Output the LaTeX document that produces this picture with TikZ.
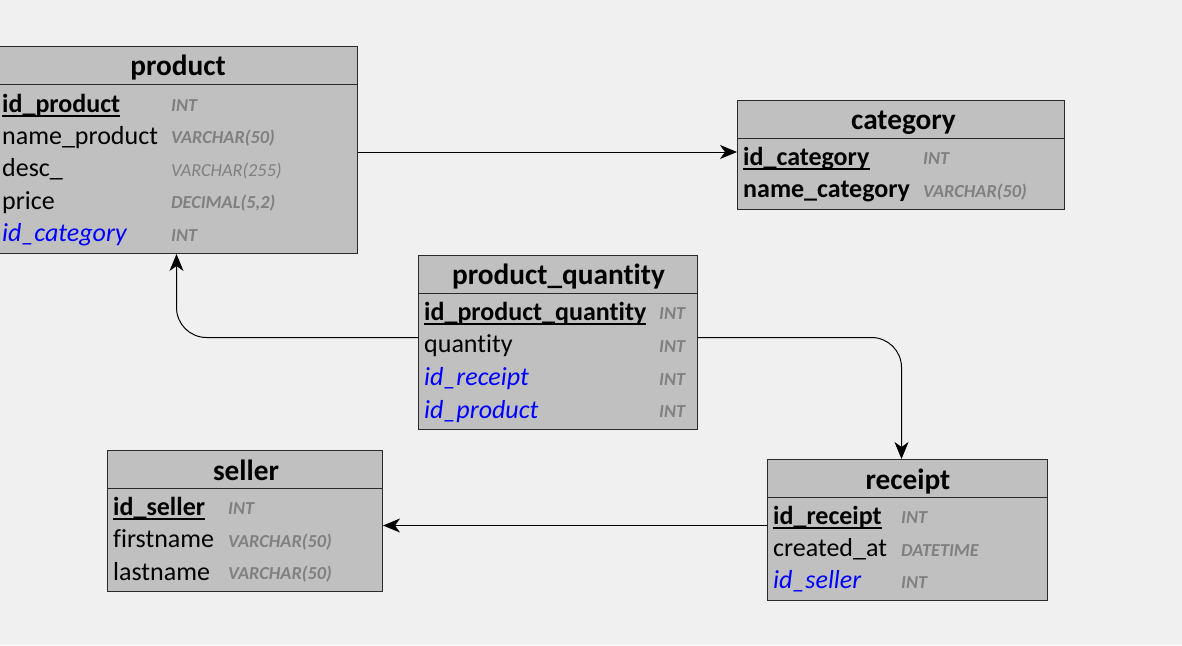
\documentclass[tikz,border=0pt]{standalone}
\usepackage{fontspec}
\setmainfont{Carlito}[Ligatures={NoCommon,NoContextual}]
\usetikzlibrary{arrows.meta}
\definecolor{canvas}{HTML}{F0F0F0}
\definecolor{tablefill}{HTML}{C0C0C0}
\definecolor{tableline}{HTML}{2A2A2A}
\definecolor{typegray}{HTML}{808080}
\definecolor{fkblue}{HTML}{0000FF}
\tikzset{
  tbl/.style={draw=tableline, fill=tablefill, line width=1pt, inner sep=0pt, anchor=north west},
  divider/.style={draw=tableline, line width=1pt},
  title/.style={anchor=base, inner sep=0pt, font=\fontsize{29.3}{30}\selectfont\bfseries},
  col/.style={anchor=base west, inner sep=0pt, font=\fontsize{26}{27}\selectfont},
  pk/.style={col, font=\fontsize{26}{27}\selectfont\bfseries},
  fk/.style={col, text=fkblue, font=\fontsize{26}{27}\selectfont\itshape},
  typ/.style={anchor=base west, inner sep=0pt, text=typegray, font=\fontsize{18.3}{19}\selectfont\bfseries\itshape},
  typlight/.style={typ, font=\fontsize{18.3}{19}\selectfont\itshape},
  keyline/.style={draw=black, line width=1.3pt},
  rel/.style={draw=black, line width=1pt, -{Stealth[length=17pt,width=14pt,inset=5pt]}}
}
\begin{document}
\begin{tikzpicture}[x=1pt,y=-1pt]
  \useasboundingbox[fill=canvas] (0,0) rectangle (1182,645);

  % ---------- product ----------
  \node[tbl, minimum width=358pt, minimum height=207pt] (product) at (-1,46) {};
  \draw[divider] (-1,84) -- (357,84);
  \node[title] (productT) at (178,75.5) {product};
  \node[pk] (productC1) at (2,112) {id\_product};
  \draw[keyline] ([yshift=-4pt]productC1.base west) -- ([yshift=-4pt]productC1.base east);
  \node[col] (productC2) at (2,144) {name\_product};
  \node[col] (productC3) at (2,176.5) {desc\_};
  \node[col] (productC4) at (2,209) {price};
  \node[fk] (productC5) at (2,241.5) {id\_category};
  \node[typ] (productY1) at (171,111) {INT};
  \node[typ] (productY2) at (171,143.5) {VARCHAR(50)};
  \node[typlight] (productY3) at (171,176) {VARCHAR(255)};
  \node[typ] (productY4) at (171,208.5) {DECIMAL(5,2)};
  \node[typ] (productY5) at (171,241) {INT};

  % ---------- category ----------
  \node[tbl, minimum width=327pt, minimum height=109pt] (category) at (737,100) {};
  \draw[divider] (737,138) -- (1064,138);
  \node[title] (categoryT) at (903.5,129.5) {category};
  \node[pk] (categoryC1) at (743,165) {id\_category};
  \draw[keyline] ([yshift=-4pt]categoryC1.base west) -- ([yshift=-4pt]categoryC1.base east);
  \node[pk] (categoryC2) at (743,197.5) {name\_category};
  \node[typ] (categoryY1) at (923,164.5) {INT};
  \node[typ] (categoryY2) at (923,197) {VARCHAR(50)};

  % ---------- product_quantity ----------
  \node[tbl, minimum width=279pt, minimum height=174pt] (pq) at (418,255) {};
  \draw[divider] (418,293) -- (697,293);
  \node[title] (pqT) at (558.5,284.5) {product\_quantity};
  \node[pk] (pqC1) at (424,320) {id\_product\_quantity};
  \draw[keyline] ([yshift=-4pt]pqC1.base west) -- ([yshift=-4pt]pqC1.base east);
  \node[col] (pqC2) at (424,352.5) {quantity};
  \node[fk] (pqC3) at (424,385.5) {id\_receipt};
  \node[fk] (pqC4) at (424,418) {id\_product};
  \node[typ] (pqY1) at (659,319.5) {INT};
  \node[typ] (pqY2) at (659,352) {INT};
  \node[typ] (pqY3) at (659,385) {INT};
  \node[typ] (pqY4) at (659,417.5) {INT};

  % ---------- seller ----------
  \node[tbl, minimum width=275pt, minimum height=141pt] (seller) at (107,450) {};
  \draw[divider] (107,488) -- (382,488);
  \node[title] (sellerT) at (246,480) {seller};
  \node[pk] (sellerC1) at (113,515) {id\_seller};
  \draw[keyline] ([yshift=-4pt]sellerC1.base west) -- ([yshift=-4pt]sellerC1.base east);
  \node[col] (sellerC2) at (113,547.5) {firstname};
  \node[col] (sellerC3) at (113,580) {lastname};
  \node[typ] (sellerY1) at (228,514.5) {INT};
  \node[typ] (sellerY2) at (228,547) {VARCHAR(50)};
  \node[typ] (sellerY3) at (228,579.5) {VARCHAR(50)};

  % ---------- receipt ----------
  \node[tbl, minimum width=280pt, minimum height=141pt] (receipt) at (767,459) {};
  \draw[divider] (767,497) -- (1047,497);
  \node[title] (receiptT) at (908,489) {receipt};
  \node[pk] (receiptC1) at (773,524) {id\_receipt};
  \draw[keyline] ([yshift=-4pt]receiptC1.base west) -- ([yshift=-4pt]receiptC1.base east);
  \node[col] (receiptC2) at (773,556.5) {created\_at};
  \node[fk] (receiptC3) at (773,588.5) {id\_seller};
  \node[typ] (receiptY1) at (901,523.5) {INT};
  \node[typ] (receiptY2) at (901,556) {DATETIME};
  \node[typ] (receiptY3) at (901,588) {INT};

  % ---------- relations ----------
  \draw[rel] ([yshift=-2pt]product.east) -- ([yshift=-2pt]product.east -| category.west);
  \draw[rel, rounded corners=30pt] ([yshift=5pt]pq.west) -| ([xshift=-2pt]product.south);
  \draw[rel, rounded corners=30pt] ([yshift=5pt]pq.east) -| ([xshift=-6pt]receipt.north);
  \draw[rel] ([yshift=4.5pt]receipt.west) -- ([yshift=4.5pt]receipt.west -| seller.east);
\end{tikzpicture}
\end{document}
